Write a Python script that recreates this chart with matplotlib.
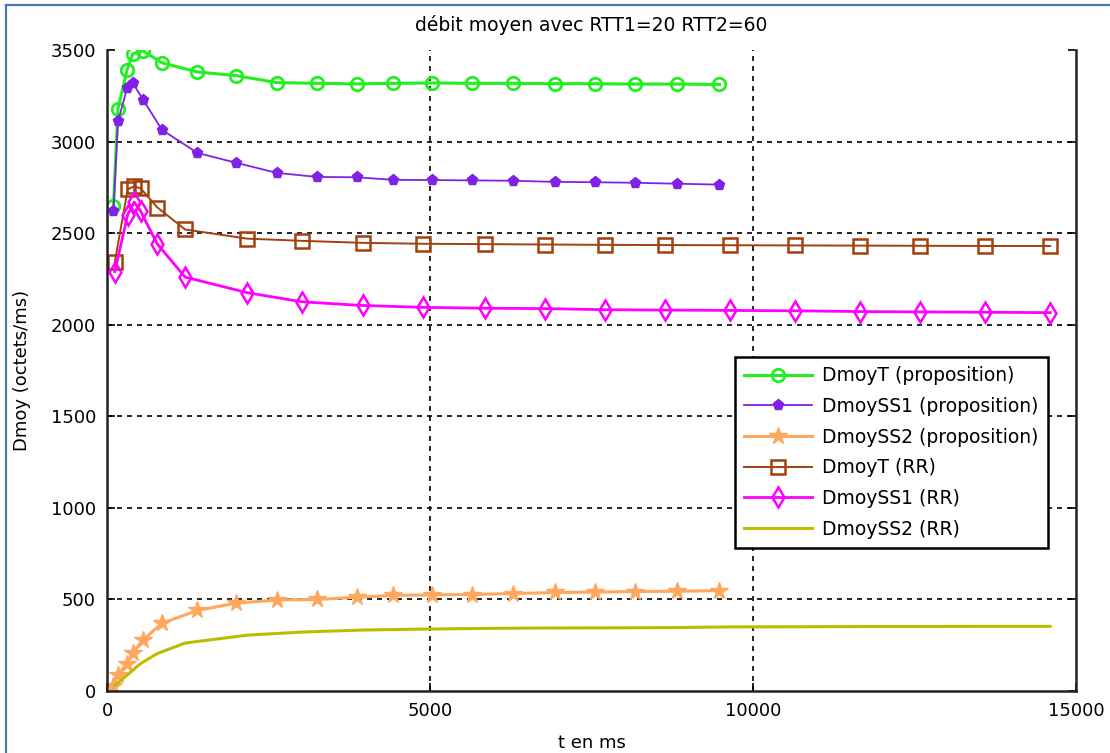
import matplotlib
matplotlib.use('Agg')
import matplotlib.pyplot as plt
from matplotlib.lines import Line2D

# time samples (ms)
t_prop = [100, 170, 310, 400, 560, 850, 1400, 2000, 2630, 3250, 3870, 4430,
          5030, 5650, 6280, 6930, 7550, 8170, 8820, 9480]
t_rr = [120, 320, 420, 520, 780, 1210, 2170, 3020, 3960, 4890, 5850, 6780,
        7710, 8640, 9640, 10650, 11660, 12590, 13590, 14600]

# proposition
dmoyT_prop = [2650, 3180, 3390, 3480, 3495, 3430, 3380, 3360, 3322, 3318, 3315, 3318,
              3320, 3318, 3318, 3316, 3316, 3314, 3314, 3312]
dmoySS1_prop = [2620, 3110, 3290, 3320, 3228, 3064, 2938, 2884, 2829, 2807, 2805, 2791,
                2790, 2788, 2786, 2780, 2778, 2775, 2770, 2765]
dmoySS2_prop = [30, 90, 150, 210, 280, 370, 440, 480, 497, 500, 512, 522,
                525, 527, 532, 538, 540, 543, 545, 548]

# round robin
dmoyT_rr = [2340, 2740, 2755, 2745, 2640, 2520, 2470, 2458, 2447, 2442, 2440, 2438,
            2436, 2435, 2434, 2433, 2432, 2431, 2430, 2430]
dmoySS1_rr = [2290, 2600, 2670, 2620, 2440, 2260, 2175, 2125, 2105, 2095, 2090, 2088,
              2082, 2080, 2078, 2076, 2072, 2070, 2068, 2066]
dmoySS2_rr = [30, 90, 120, 150, 205, 262, 305, 322, 333, 338, 342, 344,
              345, 346, 350, 351, 352, 352, 353, 353]

x_ticks = [0, 5000, 10000, 15000]
y_ticks = [0, 500, 1000, 1500, 2000, 2500, 3000, 3500]

plt.rcParams['font.family'] = ['DejaVu Sans']

fig = plt.figure(figsize=(11.1, 7.53), dpi=100)
ax = fig.add_axes([0.0964, 0.0823, 0.873, 0.8513])

ax.plot(t_prop, dmoyT_prop, color='#22ee22', lw=2.2, marker='o', ms=9,
        mfc='none', mec='#22ee22', mew=2, label='DmoyT (proposition)')
ax.plot(t_prop, dmoySS1_prop, color='#7f22e6', lw=1.3, marker='p', ms=8,
        mfc='#7f22e6', mec='#7f22e6', label='DmoySS1 (proposition)')
ax.plot(t_prop, dmoySS2_prop, color='#ffa75e', lw=2.2, marker='*', ms=13,
        mfc='#ffa75e', mec='#ffa75e', label='DmoySS2 (proposition)')
ax.plot(t_rr, dmoyT_rr, color='#a3400e', lw=1.4, marker='s', ms=10,
        mfc='none', mec='#a3400e', mew=1.8, label='DmoyT (RR)')
ax.plot(t_rr, dmoySS1_rr, color='#ff00ff', lw=2.0, marker='d', ms=10,
        mfc='none', mec='#ff00ff', mew=1.8, label='DmoySS1 (RR)')
ax.plot(t_rr, dmoySS2_rr, color='#bdbd00', lw=2.2, label='DmoySS2 (RR)')

ax.set_xlim(0, 15000)
ax.set_ylim(0, 3500)
ax.set_xticks(x_ticks)
ax.set_yticks(y_ticks)
ax.tick_params(direction='in', length=6, width=1.2, labelsize=13,
               right=True, top=False, pad=8)
ax.grid(True, color='black', linestyle=(0, (3, 3)), linewidth=1.2)
# no grid lines on the box edges
ax.get_xgridlines()[0].set_visible(False)
ax.get_xgridlines()[-1].set_visible(False)
ax.get_ygridlines()[0].set_visible(False)
ax.get_ygridlines()[-1].set_visible(False)
ax.spines['top'].set_visible(False)
for s in ['left', 'bottom', 'right']:
    ax.spines[s].set_linewidth(1.8)
    ax.spines[s].set_color('#222222')

ax.set_title('débit moyen avec RTT1=20 RTT2=60', fontsize=13.5, pad=14)
ax.set_xlabel('t en ms', fontsize=13, labelpad=10)
ax.set_ylabel('Dmoy (octets/ms)', fontsize=13, labelpad=14)

leg = ax.legend(loc='upper left', bbox_to_anchor=(0.648, 0.521), borderaxespad=0,
                fontsize=13.5, numpoints=1, handlelength=3.6, handletextpad=0.55,
                labelspacing=0.62, fancybox=False, framealpha=1, borderpad=0.5)
leg.get_frame().set_edgecolor('black')
leg.get_frame().set_linewidth(1.8)

# screenshot frame
fig.add_artist(Line2D([6 / 1110, 6 / 1110], [0, 1 - 5 / 753], color='#4a78b0', lw=1.6))
fig.add_artist(Line2D([6 / 1110, 1], [1 - 5 / 753, 1 - 5 / 753], color='#4a78b0', lw=1.6))

plt.savefig('out.png', dpi=100)
plt.close()
